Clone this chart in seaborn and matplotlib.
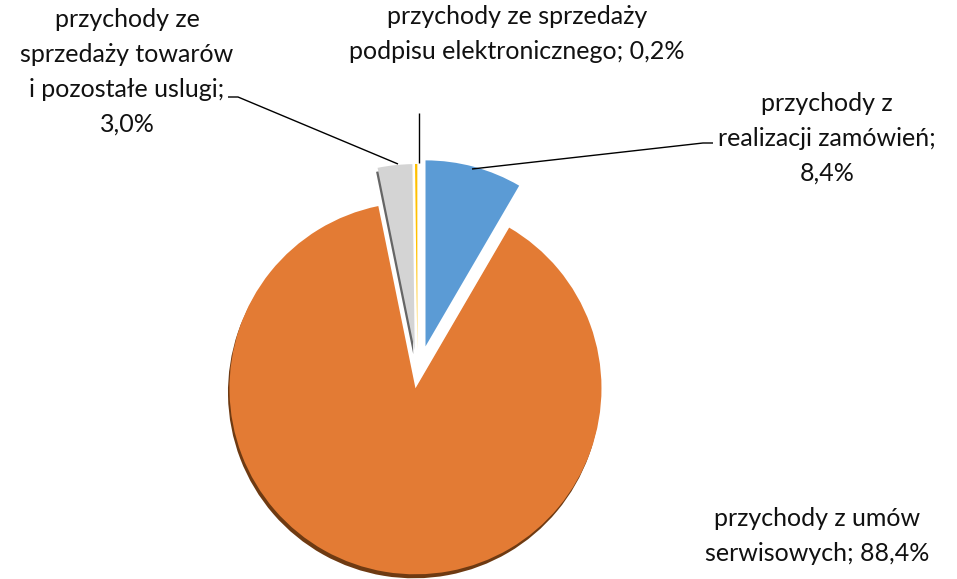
import numpy as np
import matplotlib
matplotlib.use("Agg")
import matplotlib.pyplot as plt
import seaborn as sns

# ---- data ----
categories = [
    "przychody z\nrealizacji zamówień;\n8,4%",
    "przychody z umów\nserwisowych; 88,4%",
    "przychody ze\nsprzedaży towarów\ni pozostałe uslugi;\n3,0%",
    "przychody ze sprzedaży\npodpisu elektronicznego; 0,2%",
]
values = [8.4, 88.4, 3.0, 0.2]
colors = ["#5B9BD5", "#E37B34", "#D4D4D4", "#FFC000"]
shadow_colors = ["none", "#6E3A12", "#666666", "none"]
explode = [0.165, 0.067, 0.14, 0.14]

sns.set_theme(style="white")
plt.rcParams["font.family"] = ["Lato", "DejaVu Sans"]

W, H = 957, 579
CX, CY, R = 417.5, 376.0, 186.0

def px(x, y):
    return ((x - CX) / R, (CY - y) / R)

fig = plt.figure(figsize=(W / 100, H / 100), dpi=100)
ax = fig.add_axes([0, 0, 1, 1])

# shadow layer
sx, sy = -1.5 / R, -4.0 / R
wedges_s, _ = ax.pie(values, explode=explode, startangle=90, counterclock=False,
                     radius=1.0, center=(sx, sy),
                     colors=["white"] * 4,
                     wedgeprops=dict(linewidth=0))
for w, c in zip(wedges_s, shadow_colors):
    if c == "none":
        w.set_visible(False)
    else:
        w.set_facecolor(c)

wedges, _ = ax.pie(values, explode=explode, startangle=90, counterclock=False,
                   radius=1.0, colors=colors,
                   wedgeprops=dict(linewidth=0))

# labels
fs = 18
label_pos = [(827, 138), (817, 536), (127, 72), (517, 34)]
for txt, (x, y) in zip(categories, label_pos):
    ax.text(*px(x, y), txt, ha="center", va="center", fontsize=fs,
            color="#111111", linespacing=1.62)

# leader lines
lk = dict(color="black", lw=1.0, solid_capstyle="butt")
ax.plot(*zip(px(228, 97), px(238, 97), px(398, 164)), **lk)
ax.plot(*zip(px(419, 113), px(419, 163)), **lk)
ax.plot(*zip(px(472, 169), px(703, 143), px(713, 143)), **lk)

ax.set_xlim(-CX / R, (W - CX) / R)
ax.set_ylim(-(H - CY) / R, CY / R)
ax.set_aspect("equal", adjustable="box")
ax.axis("off")

fig.savefig("out.png", dpi=100, facecolor="white")
